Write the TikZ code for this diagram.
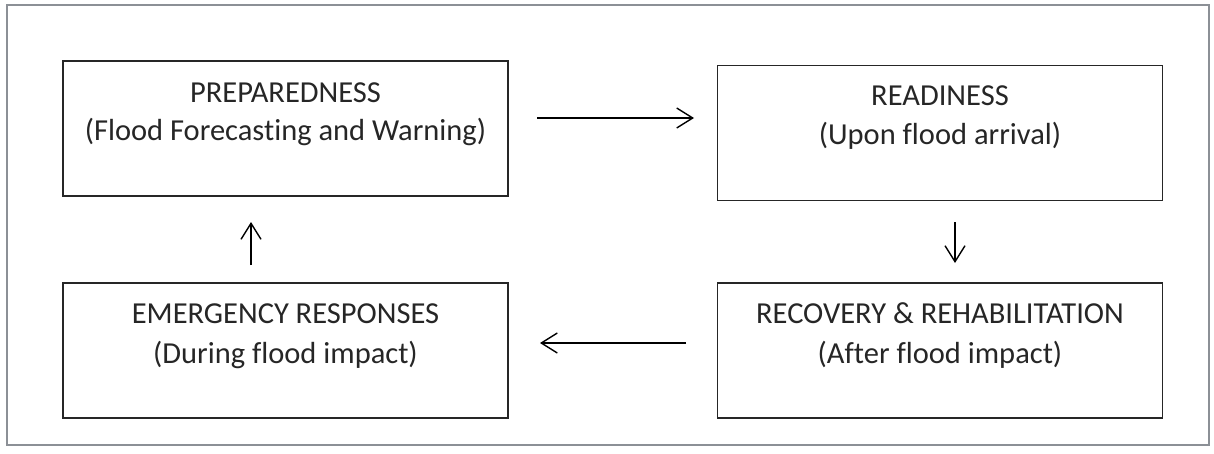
\documentclass[tikz,border=0pt]{standalone}
\usepackage{fontspec}
\setmainfont[Ligatures=NoCommon]{Carlito}
\usetikzlibrary{arrows.meta}
\definecolor{framegray}{HTML}{8C9096}
\definecolor{textgray}{HTML}{262626}
\begin{document}
\begin{tikzpicture}[x=1pt,y=-1pt,
  stagebox/.style={draw=black!85,line width=1.8pt,minimum width=445pt,minimum height=135pt,inner sep=0pt},
  stagetext/.style={text=textgray,font=\fontsize{30.5}{34}\selectfont,inner sep=0pt,anchor=base},
  flow/.style={line width=1.4pt,-{Straight Barb[length=16pt,width=20pt,line width=1.4pt]}}]
  \useasboundingbox (0,0) rectangle (1214,453);
  % outer frame
  \draw[framegray,line width=1.5pt] (7,5) rectangle (1209,445);

  % the four stages of the cycle
  \node[stagebox] (prep) at (285.5,128.5) {};
  \node[stagebox] (ready) at (940,133) {};
  \node[stagebox] (recov) at (940,350.5) {};
  \node[stagebox] (emerg) at (285.5,350.5) {};

  \node[stagetext] (prepA) at (285.5,102) {PREPAREDNESS};
  \node[stagetext] (prepB) at (285.5,140) {(Flood Forecasting and Warning)};
  \node[stagetext] (readyA) at (940,105) {READINESS};
  \node[stagetext] (readyB) at (940,144) {(Upon flood arrival)};
  \node[stagetext] (recovA) at (940,323) {RECOVERY \& REHABILITATION};
  \node[stagetext] (recovB) at (940,363) {(After flood impact)};
  \node[stagetext] (emergA) at (285.5,323) {EMERGENCY RESPONSES};
  \node[stagetext] (emergB) at (285.5,363) {(During flood impact)};

  % connectors between stages
  \coordinate (a1) at (537,118);  \coordinate (a2) at (694,118);
  \coordinate (b1) at (955,222);  \coordinate (b2) at (955,263);
  \coordinate (c1) at (686,343);  \coordinate (c2) at (540,343);
  \coordinate (d1) at (251,265);  \coordinate (d2) at (251,222);
  \draw[flow] (a1) -- (a2);
  \draw[flow] (b1) -- (b2);
  \draw[flow] (c1) -- (c2);
  \draw[flow] (d1) -- (d2);
\end{tikzpicture}
\end{document}
